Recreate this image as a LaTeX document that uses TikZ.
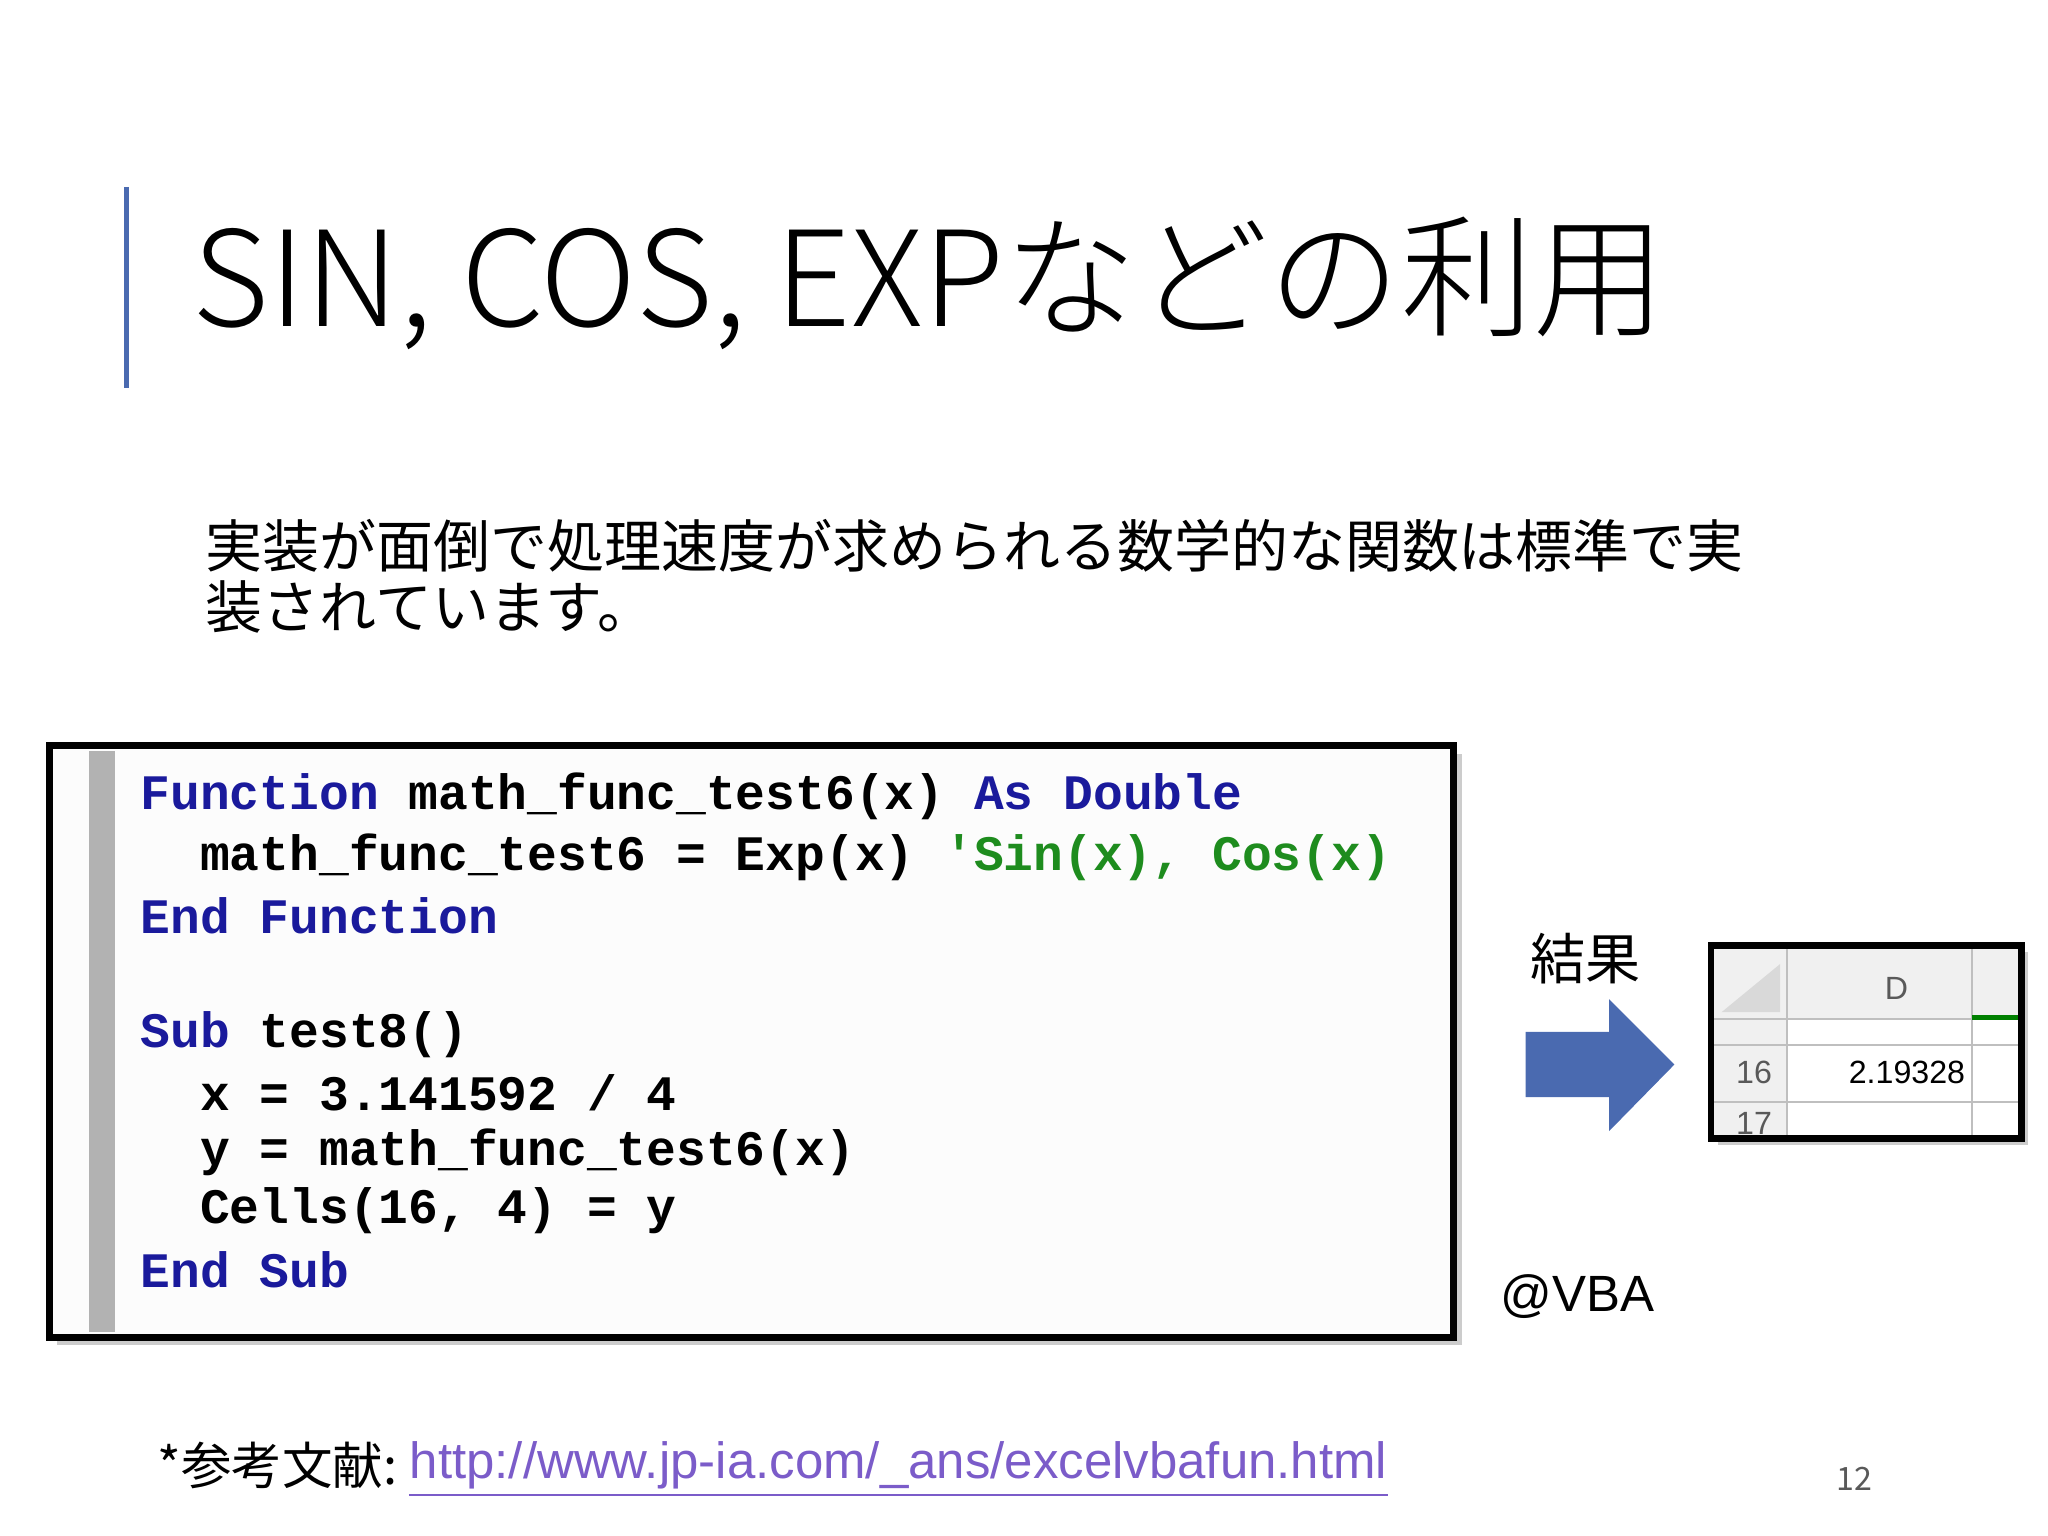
\documentclass[tikz,border=0pt]{standalone}
\usepackage{fontspec}
\setmainfont{Noto Sans CJK JP}
\newfontfamily\jpl{Noto Sans CJK JP Light}
\newfontfamily\codef{Liberation Mono}
\newfontfamily\arialf{Liberation Sans}
\definecolor{kw}{HTML}{1A1A9C}
\definecolor{cm}{HTML}{1E8C1E}
\definecolor{accent}{HTML}{4A6AB0}
\definecolor{linkc}{HTML}{7B5CC9}
\tikzset{codeline/.style={anchor=west,inner sep=0pt,font=\codef\bfseries\fontsize{10.8}{13}\selectfont},
 body/.style={anchor=west,inner sep=0pt,font=\fontsize{12.4}{15}\selectfont}}
\begin{document}
\begin{tikzpicture}[x=0.01cm,y=-0.01cm]
\useasboundingbox (0,0) rectangle (1568,1176);
\draw[accent,line width=1pt] (97,143) -- (97,297);
\node[anchor=west,inner sep=0pt,font=\jpl\fontsize{28.8}{34}\selectfont] (title) at (147,217) {SIN, COS, EXPなどの利用};
\node[body] (b1) at (157,418) {実装が面倒で処理速度が求められる数学的な関数は標準で実};
\node[body] (b2) at (157,465) {装されています。};
% code box
\fill[gray!40] (44,577) rectangle (1119,1030);
\fill[white!98!gray] (38,571) rectangle (1113,1024);
\fill[gray!60] (68,575) rectangle (88,1020);
\draw[line width=1.5pt] (38,571) rectangle (1113,1024);
\node[codeline] (c1) at (107,610) {\textcolor{kw}{Function} math\_func\_test6(x) \textcolor{kw}{As Double}};
\node[codeline] (c2) at (107,656) {\ \ math\_func\_test6 = Exp(x) \textcolor{cm}{'Sin(x), Cos(x)}};
\node[codeline] (c3) at (107,701) {\textcolor{kw}{End Function}};
\node[codeline] (c4) at (107,792) {\textcolor{kw}{Sub} test8()};
\node[codeline] (c5) at (107,837) {\ \ x = 3.141592 / 4};
\node[codeline] (c6) at (107,882) {\ \ y = math\_func\_test6(x)};
\node[codeline] (c7) at (107,927) {\ \ Cells(16, 4) = y};
\node[codeline] (c8) at (107,972) {\textcolor{kw}{End Sub}};
% result
\node[inner sep=0pt,font=\fontsize{12}{14}\selectfont] (res) at (1214,734) {結果};
\fill[accent] (1168,790) -- (1232,790) -- (1232,765) -- (1282,815) -- (1232,866) -- (1232,840) -- (1168,840) -- cycle;
\node[inner sep=0pt,font=\arialf\fontsize{11.1}{13}\selectfont] (vba) at (1208,993) {@VBA};
% excel inset
\fill[gray!40] (1315,729) rectangle (1553,877);
\fill[white] (1310,724) rectangle (1548,872);
\fill[gray!12] (1312,726) rectangle (1546,780);
\fill[gray!12] (1312,726) rectangle (1368,870);
\draw[gray!50] (1368,726) -- (1368,870) (1312,780) -- (1546,780) (1312,844) -- (1546,844) (1510,726) -- (1510,870) (1312,800) -- (1546,800);
\fill[gray!30] (1318,775) -- (1363,775) -- (1363,738) -- cycle;
\draw[green!50!black,line width=1.2pt] (1510,779) -- (1546,779);
\node[inner sep=0pt,font=\arialf\fontsize{7}{8}\selectfont,gray!70!black] (dh) at (1452,757) {D};
\node[inner sep=0pt,font=\arialf\fontsize{7}{8}\selectfont,gray!70!black] (r16) at (1343,821) {16};
\node[inner sep=0pt,font=\arialf\fontsize{7}{8}\selectfont] (val) at (1460,821) {2.19328};
\node[inner sep=0pt,font=\arialf\fontsize{7}{8}\selectfont,gray!70!black] (r17) at (1343,860) {17};
\draw[line width=1.5pt] (1310,724) rectangle (1548,872);
% footer
\node[anchor=west,inner sep=0pt,font=\fontsize{11}{13}\selectfont] (ref) at (120,1122) {*参考文献:};
\node[anchor=west,inner sep=0pt,font=\arialf\fontsize{11.1}{13}\selectfont,text=linkc] (url) at (313,1122) {http://www.jp-ia.com/\_ans/excelvbafun.html};
\draw[linkc,line width=0.5pt] ([yshift=-1]url.south west) -- ([yshift=-1]url.south east);
\node[inner sep=0pt,font=\fontsize{7}{8}\selectfont,gray!70!black] (pg) at (1420,1132) {12};
\end{tikzpicture}
\end{document}
